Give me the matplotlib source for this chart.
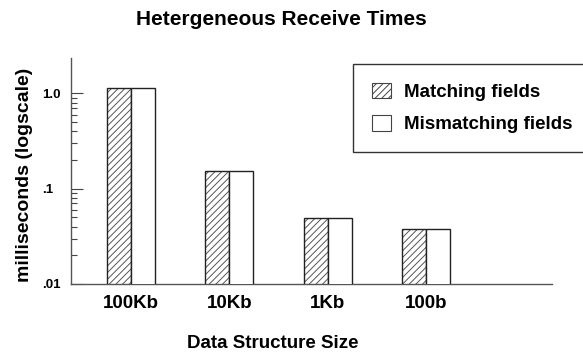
import matplotlib
matplotlib.use("Agg")
import matplotlib.pyplot as plt
from matplotlib.patches import Patch
from matplotlib.ticker import FixedLocator, NullFormatter
import numpy as np

sizes = ["100Kb", "10Kb", "1Kb", "100b"]
matching = [1.13, 0.153, 0.0483, 0.0364]
mismatching = [1.13, 0.153, 0.0483, 0.0364]
ytick_vals = [0.01, 0.1, 1.0]
ytick_labels = [".01", ".1", "1.0"]
minor_vals = [m * d for d in (0.01, 0.1) for m in range(2, 10)]

plt.rcParams["font.family"] = ["Liberation Sans", "DejaVu Sans"]
plt.rcParams["font.weight"] = "bold"
plt.rcParams["hatch.linewidth"] = 0.7

fig = plt.figure(figsize=(5.83, 3.56), dpi=100)
ax = fig.add_axes([71 / 583, 1 - 284 / 356, (552 - 71) / 583, (284 - 58) / 356])

x = np.arange(1, len(sizes) + 1)
w = 0.245
edge = "#222222"
hatch_col = "#555555"

# hatched bars: hatch layer then outline
ax.bar(x - w / 2, matching, width=w, bottom=0.001, facecolor="white",
       edgecolor=hatch_col, hatch="/////", linewidth=0, zorder=2)
ax.bar(x - w / 2, matching, width=w, bottom=0.001, fill=False,
       edgecolor=edge, linewidth=1.0, zorder=3)
ax.bar(x + w / 2, mismatching, width=w, bottom=0.001, facecolor="white",
       edgecolor=edge, linewidth=1.0, zorder=3)

ax.set_yscale("log")
ax.set_ylim(0.01, 2.35)
ax.set_xlim(0.39, 5.28)
ax.set_yticks(ytick_vals)
ax.set_yticklabels(ytick_labels)
ax.yaxis.set_minor_locator(FixedLocator(minor_vals))
ax.yaxis.set_minor_formatter(NullFormatter())
ax.tick_params(axis="y", which="major", direction="in", length=8.6, width=0.8,
               color="#444444", labelsize=9.5, pad=21)
ax.tick_params(axis="y", which="minor", direction="in", length=4.3, width=0.8,
               color="#444444")
for lbl in ax.get_yticklabels():
    lbl.set_horizontalalignment("left")
    lbl.set_fontweight("bold")

ax.set_xticks(x)
ax.set_xticklabels(sizes, fontsize=13.5, fontweight="bold")
ax.tick_params(axis="x", length=0, pad=8)

for s in ["top", "right"]:
    ax.spines[s].set_visible(False)
for s in ["left", "bottom"]:
    ax.spines[s].set_color("#555555")
    ax.spines[s].set_linewidth(1.0)

ax.set_xlabel("Data Structure Size", fontsize=13.5, fontweight="bold")
ax.xaxis.set_label_coords(0.42, -0.225)
ax.set_ylabel("milliseconds (logscale)", fontsize=14, fontweight="bold")
ax.yaxis.set_label_coords(-0.078, 0.485)

fig.text(281 / 583, 1 - 25 / 356, "Hetergeneous Receive Times", ha="center",
         va="baseline", fontsize=15, fontweight="bold")

handles = [
    Patch(facecolor="white", edgecolor="#444444", hatch="/////", linewidth=0.8,
          label="Matching fields"),
    Patch(facecolor="white", edgecolor="#444444", linewidth=0.8,
          label="Mismatching fields"),
]
leg = fig.legend(handles=handles, loc="upper left",
                 bbox_to_anchor=(353 / 583, 1 - 64 / 356), borderaxespad=0,
                 fancybox=False, frameon=True, borderpad=1.0,
                 handlelength=1.0, handleheight=0.9, handletextpad=0.7,
                 labelspacing=0.75, prop={"weight": "bold", "size": 13.5})
leg.get_frame().set_edgecolor("black")
leg.get_frame().set_linewidth(1.0)

fig.savefig("out.png", dpi=100)
